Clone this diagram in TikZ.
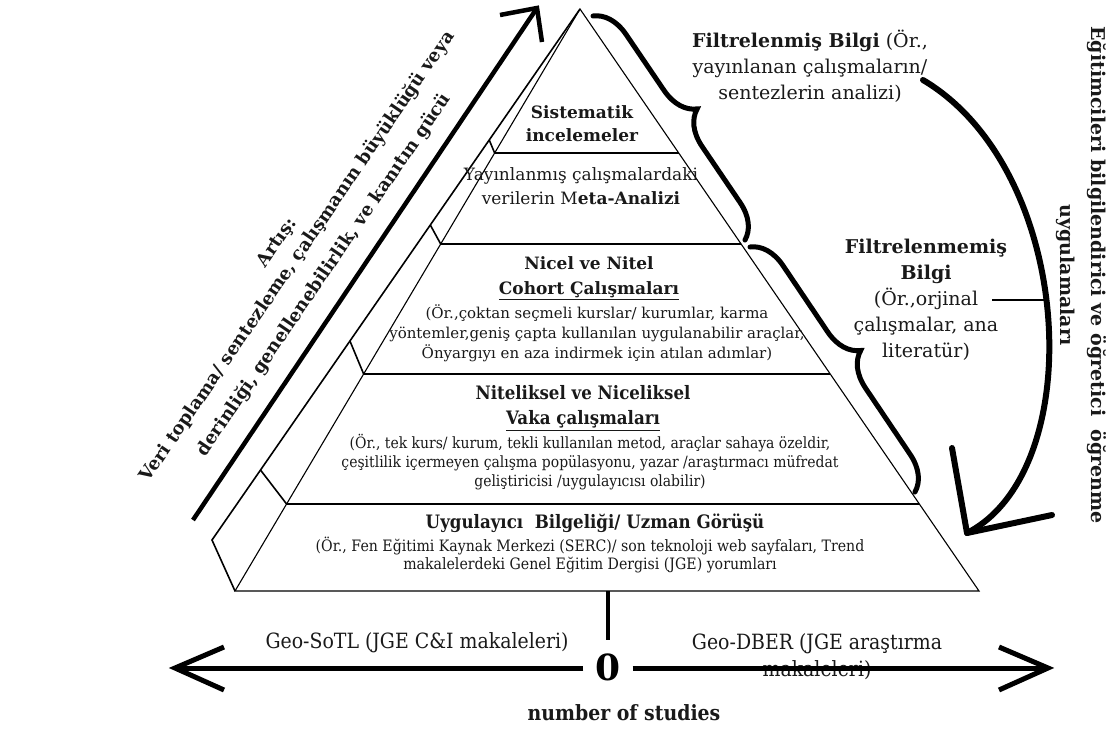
\documentclass[tikz,border=0pt]{standalone}
\usepackage{fontspec}
\setmainfont{DejaVu Serif}
\newfontfamily\cond[FakeStretch=0.9]{DejaVu Serif}
\usetikzlibrary{decorations.pathreplacing,calc}
\begin{document}
\begin{tikzpicture}[x=1pt,y=-1pt,
  edge/.style={line width=1.1pt,line join=miter},
  outeredge/.style={line width=1.6pt},
  thickbrace/.style={decorate,decoration={brace,amplitude=34pt,aspect=0.5},line width=5pt,line cap=round},
  bigline/.style={line width=6pt,line cap=round,line join=round},
  axisline/.style={line width=5pt},
  txt/.style={align=center,inner sep=0pt,text=black!90}
]
\useasboundingbox (0,0) rectangle (1116,728);

% ---------- pyramid ----------
\coordinate (A) at (580,9);
\coordinate (BL) at (235,591);
\coordinate (BR) at (979,591);
\coordinate (OL) at (212,540);
\coordinate (L1) at ($(A)!0.2474!(BL)$); \coordinate (R1) at ($(A)!0.2474!(BR)$);
\coordinate (L2) at ($(A)!0.4038!(BL)$); \coordinate (R2) at ($(A)!0.4038!(BR)$);
\coordinate (L3) at ($(A)!0.6271!(BL)$); \coordinate (R3) at ($(A)!0.6271!(BR)$);
\coordinate (L4) at ($(A)!0.8505!(BL)$); \coordinate (R4) at ($(A)!0.8505!(BR)$);
\coordinate (O1) at ($(A)!0.2467!(OL)$);
\coordinate (O2) at ($(A)!0.4068!(OL)$);
\coordinate (O3) at ($(A)!0.6252!(OL)$);
\coordinate (O4) at ($(A)!0.8682!(OL)$);

\draw[edge] (A) -- (BL) -- (BR) -- cycle;
\draw[outeredge] (A) -- (OL) -- (BL);
\draw[edge] (L1) -- (R1) (L2) -- (R2) (L3) -- (R3) (L4) -- (R4);
\draw[outeredge] (L1) -- (O1) (L2) -- (O2) (L3) -- (O3) (L4) -- (O4);

% ---------- level texts ----------
\node[txt,font={\fontsize{17}{23}\selectfont\bfseries}] (sys) at (582,124) {Sistematik\\incelemeler};
\node[txt,font={\fontsize{17}{24}\selectfont}] (meta) at (581,186) {Yayınlanmış çalışmalardaki\\verilerin M\textbf{eta-Analizi}};

\node[txt,font={\fontsize{17}{25}\selectfont\bfseries}] (nicH) at (589,278) {Nicel ve Nitel\\\underline{Cohort Çalışmaları}};
\node[txt,font={\fontsize{15}{20}\selectfont}] (nicD) at (597,333) {(Ör.,çoktan seçmeli kurslar/ kurumlar, karma\\yöntemler,geniş çapta kullanılan uygulanabilir araçlar,\\Önyargıyı en aza indirmek için atılan adımlar)};

\node[txt,font={\cond\fontsize{18.5}{25}\selectfont\bfseries}] (vakH) at (583,408) {Niteliksel ve Niceliksel\\\underline{Vaka çalışmaları}};
\node[txt,font={\cond\fontsize{15.5}{19}\selectfont}] (vakD) at (590,462) {(Ör., tek kurs/ kurum, tekli kullanılan metod, araçlar sahaya özeldir,\\çeşitlilik içermeyen çalışma popülasyonu, yazar /araştırmacı müfredat\\geliştiricisi /uygulayıcısı olabilir)};

\node[txt,font={\cond\fontsize{18.5}{20}\selectfont\bfseries}] (uygH) at (595,523) {Uygulayıcı\ \ Bilgeliği/ Uzman Görüşü};
\node[txt,font={\cond\fontsize{15.7}{18.5}\selectfont}] (uygD) at (590,555) {(Ör., Fen Eğitimi Kaynak Merkezi (SERC)/ son teknoloji web sayfaları, Trend\\makalelerdeki Genel Eğitim Dergisi (JGE) yorumları};

% ---------- left arrow and text ----------
\coordinate (la0) at (193,520);
\coordinate (la1) at (537,8);
\draw[line width=4.5pt] (la0) -- (la1);
\draw[line width=4.5pt,line join=miter] ($(la1)+(-37,7)$) -- (la1) -- ($(la1)+(5,34)$);
\node[txt,rotate=55.6,font={\fontsize{18}{28}\selectfont\bfseries}] (incr) at (301,259)
  {Artış:\\[-3pt]Veri toplama/ sentezleme, çalışmanın büyüklüğü veya\\[4pt]derinliği, genellenebilirlik, ve kanıtın gücü};

% ---------- braces ----------
\coordinate (b1a) at (593,16);
\coordinate (b1b) at (745,240);
\coordinate (b2a) at (750,247);
\coordinate (b2b) at (915,492);
\draw[thickbrace] (b1a) -- (b1b);
\draw[thickbrace] (b2a) -- (b2b);

% ---------- right texts ----------
\node[txt,font={\fontsize{19}{26}\selectfont}] (filt) at (810,66) {\textbf{Filtrelenmiş Bilgi} (Ör.,\\yayınlanan çalışmaların/\\sentezlerin analizi)};
\node[txt,font={\fontsize{19}{26}\selectfont}] (unfilt) at (926,300) {\textbf{Filtrelenmemiş}\\\textbf{Bilgi}\\(Ör.,orjinal\\çalışmalar, ana\\literatür)};

% big curved arrow
\coordinate (ba0) at (923,80);
\coordinate (ba1) at (967,533);
\coordinate (bmid) at (1049,300);
\draw[bigline] (ba0) .. controls (1075,170) and (1090,470) .. (ba1);
\draw[bigline] ($(ba1)+(-15,-85)$) -- (ba1) -- ($(ba1)+(85,-18)$);
\coordinate (uf) at (992,300);
\draw[line width=2.5pt] (uf) -- (bmid);

\node[txt,rotate=-90,font={\fontsize{19}{31}\selectfont\bfseries}] (edu) at (1081,275)
  {Eğitimcileri bilgilendirici ve öğretici\ \ öğrenme\\uygulamaları};

% ---------- bottom axis ----------
\coordinate (base) at (608,591);
\coordinate (tick) at (608,640);
\draw[line width=4pt] (base) -- (tick);

\node[txt,font={\cond\fontsize{21}{24}\selectfont}] (sotl) at (417,643) {Geo-SoTL (JGE C\&I makaleleri)};
\node[txt,font={\cond\fontsize{21}{27}\selectfont}] (dber) at (817,657) {Geo-DBER (JGE araştırma\\makaleleri)};
\node[txt,font={\cond\fontsize{21}{24}\selectfont\bfseries}] (nos) at (624,713) {number of studies};

\node[font={\fontsize{36}{40}\selectfont\bfseries},inner xsep=12pt,inner ysep=0pt] (zero) at (608,667) {0};
\coordinate (axL) at (175,668);
\coordinate (axR) at (1048,668);
\draw[axisline] (zero.west |- axL) -- (axL);
\draw[axisline] (zero.east |- axR) -- (axR);
\draw[axisline,line join=miter] ($(axL)+(49,-21)$) -- (axL) -- ($(axL)+(49,22)$);
\draw[axisline,line join=miter] ($(axR)+(-49,-21)$) -- (axR) -- ($(axR)+(-49,22)$);
\end{tikzpicture}
\end{document}
